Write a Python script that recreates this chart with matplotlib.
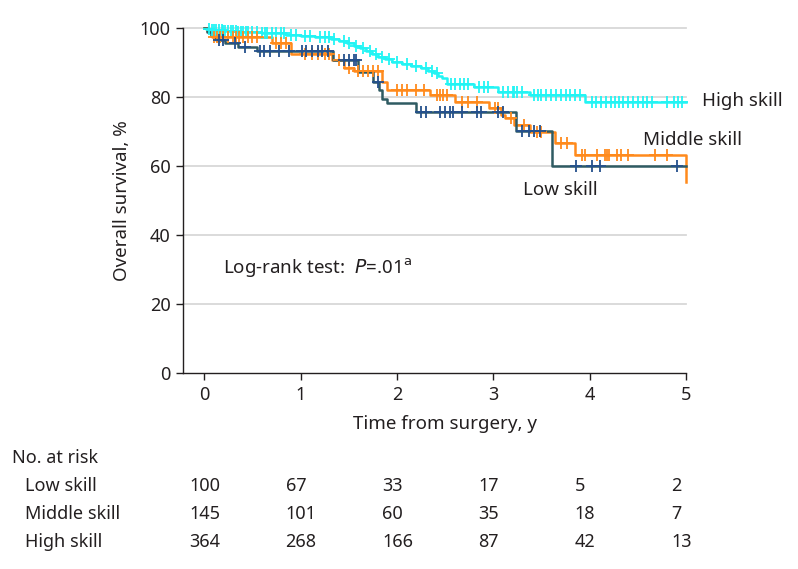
import numpy as np
import matplotlib
matplotlib.use("Agg")
import matplotlib.pyplot as plt
import matplotlib.transforms as mtransforms

plt.rcParams['font.family'] = ['Noto Sans', 'DejaVu Sans']

# ---------------- data ----------------
groups = ["Low skill", "Middle skill", "High skill"]

low_times = [0.03, 0.07, 0.12, 0.22, 0.35, 0.55, 1.34, 1.60, 1.75, 1.81, 1.85, 1.90, 2.20, 3.24, 3.61]
low_surv = [98.9, 97.8, 96.7, 95.6, 94.6, 93.5, 90.8, 87.2, 84.3, 82.0, 79.5, 78.3, 75.8, 70.3, 60.2]
low_cens = [0.15, 0.20, 0.32, 0.42, 0.58, 0.62, 0.68, 0.78, 0.88, 1.02, 1.06, 1.12, 1.18, 1.22, 1.28,
            1.45, 1.50, 1.55, 1.58, 1.80, 2.25, 2.30, 2.45, 2.50, 2.55, 2.58, 2.68, 2.83, 2.87, 3.05,
            3.10, 3.30, 3.37, 3.42, 3.48, 3.86, 4.02, 4.11, 4.91]

mid_times = [0.03, 0.08, 0.70, 0.90, 1.33, 1.45, 1.55, 1.85, 1.90, 2.34, 2.60, 2.96, 3.08, 3.12,
             3.22, 3.38, 3.64, 3.85, 5.00]
mid_surv = [99.3, 97.6, 95.7, 92.5, 90.8, 88.5, 87.5, 84.4, 82.1, 80.7, 78.7, 76.9, 74.9, 74.0,
            72.0, 70.0, 66.8, 63.3, 55.5]
mid_cens = [0.10, 0.13, 0.16, 0.20, 0.25, 0.30, 0.33, 0.36, 0.40, 0.45, 0.50, 0.55, 0.75, 0.80, 0.85,
            1.05, 1.12, 1.18, 1.25, 1.30, 1.40, 1.50, 1.60, 1.65, 1.70, 1.75, 1.80, 2.00, 2.05, 2.10,
            2.20, 2.28, 2.42, 2.45, 2.48, 2.52, 2.68, 2.74, 2.83, 3.02, 3.05, 3.18, 3.32, 3.45, 3.50,
            3.70, 3.76, 3.92, 3.95, 4.08, 4.16, 4.18, 4.20, 4.28, 4.33, 4.40, 4.68, 4.80]

high_times = [0.02, 0.08, 0.20, 0.35, 0.60, 0.85, 1.00, 1.15, 1.32, 1.40, 1.48, 1.55, 1.62, 1.68,
              1.74, 1.80, 1.88, 1.95, 2.05, 2.15, 2.25, 2.32, 2.38, 2.43, 2.47, 2.52, 2.80, 3.05,
              3.38, 3.95]
high_surv = [99.7, 99.4, 99.1, 98.8, 98.5, 98.2, 97.9, 97.6, 97.0, 96.3, 95.6, 95.0, 94.2, 93.4,
             92.6, 91.8, 91.0, 90.3, 89.7, 89.1, 88.4, 87.7, 87.0, 86.3, 85.6, 83.8, 83.1, 81.5,
             80.7, 78.7]
high_cens = [0.05, 0.08, 0.10, 0.12, 0.15, 0.18, 0.20, 0.22, 0.25, 0.28, 0.30, 0.33, 0.35, 0.38,
             0.40, 0.43, 0.45, 0.50, 0.55, 0.60, 0.63, 0.65, 0.70, 0.75, 0.80, 0.83, 0.90, 0.95,
             1.05, 1.10, 1.20, 1.25, 1.30, 1.35, 1.45, 1.50, 1.58, 1.65, 1.72, 1.78, 1.85, 1.92,
             2.00, 2.10, 2.20, 2.30, 2.36, 2.42, 2.56, 2.60, 2.65, 2.70, 2.74, 2.85, 2.90, 2.95,
             3.10, 3.15, 3.20, 3.22, 3.25, 3.30, 3.42, 3.46, 3.50, 3.55, 3.60, 3.65, 3.70, 3.75,
             3.80, 3.85, 3.90, 4.02, 4.07, 4.12, 4.17, 4.22, 4.26, 4.30, 4.35, 4.40, 4.45, 4.50,
             4.55, 4.60, 4.65, 4.80, 4.88, 4.92, 4.96]

risk_times = [0, 1, 2, 3, 4, 5]
risk_low = [100, 67, 33, 17, 5, 2]
risk_mid = [145, 101, 60, 35, 18, 7]
risk_high = [364, 268, 166, 87, 42, 13]

# ---------------- styles ----------------
TXT = '#231f20'
line_cols = {'Low skill': '#2f5b62', 'Middle skill': '#ff8a1c', 'High skill': '#22f4f4'}
cens_cols = {'Low skill': '#24508c', 'Middle skill': '#ff8a1c', 'High skill': '#22f4f4'}

fig = plt.figure(figsize=(7.98, 5.69), dpi=100)
ax = fig.add_axes([183/798, 1 - 373.3/569, (686 - 183)/798, (373.3 - 28.3)/569])
ax.set_xlim(-0.22, 5.0)
ax.set_ylim(0, 100)

for y in [20, 40, 60, 80, 100]:
    ax.axhline(y, color='#d8d8d8', lw=1.3, zorder=0, clip_on=False)


def step_val(times, surv, t):
    idx = np.searchsorted(np.array(times), t, side='right')
    vals = np.concatenate([[100.0], np.array(surv)])
    return vals[idx]


series = [
    ('High skill', high_times, high_surv, high_cens),
    ('Middle skill', mid_times, mid_surv, mid_cens),
    ('Low skill', low_times, low_surv, low_cens),
]
for name, tt, ss, cc in series:
    x = np.concatenate([[0.0], tt])
    y = np.concatenate([[100.0], ss])
    if x[-1] < 5.0:
        x = np.concatenate([x, [5.0]])
        y = np.concatenate([y, [y[-1]]])
    ax.plot(x, y, drawstyle='steps-post', color=line_cols[name], lw=1.8, zorder=3, clip_on=False)
    cy = step_val(tt, ss, np.array(cc))
    ax.plot(cc, cy, linestyle='none', marker='+', markersize=8, mew=1.3,
            color=cens_cols[name], zorder=4, clip_on=False)

for s in ['top', 'right']:
    ax.spines[s].set_visible(False)
for s in ['left', 'bottom']:
    ax.spines[s].set_color(TXT)
    ax.spines[s].set_linewidth(1.0)

ax.set_xticks(risk_times)
ax.set_yticks([0, 20, 40, 60, 80, 100])
ax.tick_params(axis='both', direction='out', length=5, width=1, color=TXT,
               labelsize=13, labelcolor=TXT, pad=4)

ax.set_xlabel('Time from surgery, y', fontsize=13.5, color=TXT)
ax.xaxis.set_label_coords((2.5 + 0.22) / 5.22, -0.122)
ax.set_ylabel('Overall survival, %', fontsize=13.5, color=TXT, labelpad=6)

# curve labels
ax.text(5.17, 79, 'High skill', fontsize=13.5, color=TXT, va='center', ha='left', clip_on=False)
ax.text(4.55, 67.5, 'Middle skill', fontsize=13.5, color=TXT, va='center', ha='left', clip_on=False)
ax.text(3.31, 53, 'Low skill', fontsize=13.5, color=TXT, va='center', ha='left', clip_on=False)

ax.text(0.2, 30.5, r'Log-rank test:  $\it{P}$=.01$^{\rm a}$', fontsize=13.5, color=TXT,
        va='center', ha='left')

# risk table
trans = mtransforms.blended_transform_factory(ax.transData, fig.transFigure)
fig.text(12/798, 1 - 458/569, 'No. at risk', fontsize=13, color=TXT, va='center', ha='left')
rows = [('Low skill', risk_low, 486), ('Middle skill', risk_mid, 514), ('High skill', risk_high, 542)]
for name, vals, ypix in rows:
    fy = 1 - ypix/569
    fig.text(25/798, fy, name, fontsize=13, color=TXT, va='center', ha='left')
    for t, v in zip(risk_times, vals):
        ax.text(t - 0.155, fy, str(v), transform=trans, fontsize=13, color=TXT,
                va='center', ha='left', clip_on=False)

fig.savefig('out.png', dpi=100)
